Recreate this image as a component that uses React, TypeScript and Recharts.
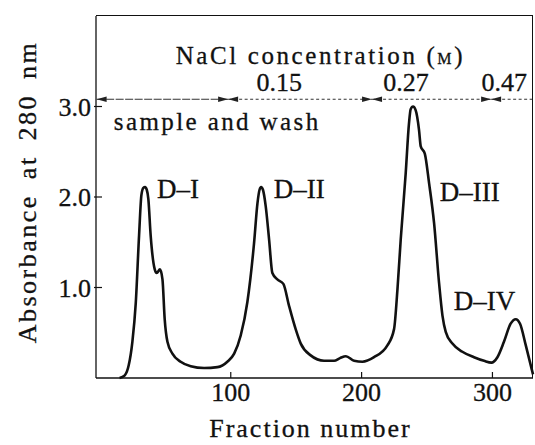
import { LineChart, Line, XAxis, YAxis, ReferenceLine, ReferenceDot, Label } from 'recharts';

// elution profile
const fraction = [
  15, 19, 22, 24.8, 27.4, 29.9, 31.7, 33.2, 34.5, 35.8, 37, 38.8, 41.9, 43.4, 45.9, 47.8, 49.5, 51.6, 55.4,
  61.7, 69.4, 79.6, 89.8, 97.4, 102.6, 107.6, 112.7, 117.8, 120.4, 122, 123.2, 124.6, 126.7, 129.3, 131.8,
  135.6, 140.2, 144.5, 149.6, 153.5, 161.1, 171.3, 179, 183.5, 188, 194.3, 200.6, 209.5, 219.7, 224.8, 227.4,
  229.9, 233.7, 236.2, 237.5, 239.3, 241.3, 243.9, 245.2, 248.3, 251.6, 255.4, 259.2, 261.8, 264.3, 269.4,
  277, 285.9, 293.6, 299.2, 303.8, 308.8, 313.9, 317.8, 321.1, 325.5, 331,
];
const absorbance = [
  0, 0.03, 0.14, 0.4, 0.83, 1.57, 2.02, 2.1, 2.11, 2.08, 1.98, 1.57, 1.2, 1.16, 1.2, 1.09, 0.65, 0.4, 0.27,
  0.18, 0.13, 0.11, 0.12, 0.18, 0.27, 0.47, 0.84, 1.49, 1.93, 2.08, 2.11, 2.08, 1.9, 1.53, 1.16,
  1.09, 1.04, 0.8, 0.54, 0.38, 0.25, 0.19, 0.19, 0.22, 0.24, 0.19, 0.18, 0.23, 0.36, 0.54, 0.98,
  1.53, 2.26, 2.81, 2.97, 3.0, 2.96, 2.74, 2.56, 2.48, 2.15, 1.71, 1.05, 0.69, 0.51, 0.38,
  0.29, 0.23, 0.19, 0.17, 0.23, 0.4, 0.6, 0.65, 0.6, 0.36, 0.04,
];

const xTicks = [100, 200, 300];
const yTicks = [1, 2, 3];

// NaCl steps (fraction where each step starts/ends) and their labels
const saltBounds = [-2.5, 98, 208, 299, 331];
const saltLabels = ['0.15', '0.27', '0.47'];
const saltLabelX = [137, 234, 309];
const saltLevel = 3.08;

const peakNames = ['D–I', 'D–II', 'D–III', 'D–IV'];
const peakLabelX = [59.6, 152.3, 282.6, 294];
const peakLabelY = [1.99, 1.99, 1.96, 0.75];

const data = fraction.map((f, i) => ({ x: f, y: absorbance[i] }));

const FONT = "'Liberation Serif', 'Times New Roman', Times, serif";
const INK = '#111';
const W = 535;
const H = 445;
const MARGIN = { top: 16, right: 2, left: 0, bottom: 0 };
const Y_AXIS_W = 96;
const X_AXIS_H = 67;
const xDomain = [-3, 331];
const yDomain = [0, 4];

const txt = { fontFamily: FONT };
const heavy = { stroke: INK, strokeWidth: 0.3 };

const XTick = (p: any) => (
  <g>
    <line x1={p.x} x2={p.x} y1={p.y} y2={p.y - 6} stroke={INK} strokeWidth={1.2} />
    <text x={p.x} y={p.y + 23} textAnchor="middle" fontSize={26} style={txt} fill={INK} {...heavy}>
      {p.payload.value}
    </text>
  </g>
);

const YTick = (p: any) => (
  <g>
    <line x1={p.x - 2} x2={p.x + 6} y1={p.y} y2={p.y} stroke={INK} strokeWidth={1.2} />
    <text x={p.x - 5} y={p.y + 9} textAnchor="end" fontSize={26} style={txt} fill={INK} {...heavy}>
      {p.payload.value.toFixed(1)}
    </text>
  </g>
);

const YTitle = () => {
  const cx = 27;
  const cy = 192;
  return (
    <text
      x={cx}
      y={cy}
      transform={`rotate(-90 ${cx} ${cy})`}
      textAnchor="middle"
      dominantBaseline="central"
      fontSize={26}
      style={txt}
      fill={INK}
      {...heavy}
      letterSpacing={2.5}
      wordSpacing={6}
    >
      Absorbance at 280 nm
    </text>
  );
};

function arrowSeg(left: boolean, right: boolean, dash: string) {
  return (p: any) => {
    const { x1, y1, x2 } = p;
    const h = 2.8;
    const L = 10;
    return (
      <g>
        <line x1={x1} y1={y1} x2={x2} y2={y1} stroke="#333" strokeWidth={1.2} strokeDasharray={dash} />
        {left && <polygon points={`${x1},${y1} ${x1 + L},${y1 - h} ${x1 + L},${y1 + h}`} fill="#222" />}
        {right && <polygon points={`${x2},${y1} ${x2 - L},${y1 - h} ${x2 - L},${y1 + h}`} fill="#222" />}
      </g>
    );
  };
}

function textAt(text: string, size: number, anchor: string, spacing = 0) {
  return (p: any) => (
    <text x={p.cx} y={p.cy} fontSize={size} textAnchor={anchor} style={txt} fill={INK} {...heavy} letterSpacing={spacing}>
      {text}
    </text>
  );
}

const headerShape = (p: any) => (
  <text x={p.cx} y={p.cy} fontSize={25} textAnchor="middle" style={txt} fill={INK} {...heavy} letterSpacing={2.6}>
    NaCl concentration (<tspan fontSize={16}>M</tspan>)
  </text>
);

export default function App() {
  const plotLeft = MARGIN.left + Y_AXIS_W;
  const plotTop = MARGIN.top;
  const plotW = W - MARGIN.right - plotLeft;
  const plotH = H - MARGIN.bottom - X_AXIS_H - plotTop;
  return (
    <div style={{ position: 'absolute', left: 0, top: 0, width: W, height: H, background: '#fff' }}>
      <LineChart width={W} height={H} data={data} margin={MARGIN}>
        <XAxis
          dataKey="x"
          type="number"
          domain={xDomain}
          ticks={xTicks}
          height={X_AXIS_H}
          tickSize={0}
          tickMargin={0}
          tickLine={false}
          tick={<XTick />}
          axisLine={{ stroke: INK, strokeWidth: 1.3 }}
        >
          <Label
            content={(p: any) => (
              <text
                x={p.viewBox.x + p.viewBox.width / 2 - 4}
                y={p.viewBox.y + 59}
                textAnchor="middle"
                fontSize={26}
                style={txt}
                fill={INK}
                {...heavy}
                letterSpacing={2}
              >
                Fraction number
              </text>
            )}
          />
        </XAxis>
        <YAxis
          type="number"
          domain={yDomain}
          ticks={yTicks}
          width={Y_AXIS_W}
          tickSize={0}
          tickMargin={0}
          tickLine={false}
          tick={<YTick />}
          axisLine={{ stroke: INK, strokeWidth: 1.3 }}
        >
          <Label content={YTitle} />
        </YAxis>

        {saltBounds.slice(0, -1).map((b, i) => (
          <ReferenceLine
            key={`seg${i}`}
            segment={[{ x: b, y: saltLevel }, { x: saltBounds[i + 1], y: saltLevel }]}
            ifOverflow="visible"
            shape={arrowSeg(true, i < saltBounds.length - 2, i === 0 ? '8 1.5' : '3 2.5')}
          />
        ))}
        <ReferenceDot x={168.5} y={3.47} r={0} shape={headerShape} />
        {saltLabels.map((s, i) => (
          <ReferenceDot key={s} x={saltLabelX[i]} y={3.17} r={0} shape={textAt(s, 26, 'middle')} />
        ))}
        <ReferenceDot x={10.6} y={2.74} r={0} shape={textAt('sample and wash', 25, 'start', 2.4)} />
        {peakNames.map((n, i) => (
          <ReferenceDot key={n} x={peakLabelX[i]} y={peakLabelY[i]} r={0} shape={textAt(n, 27, 'middle')} />
        ))}

        <Line type="monotone" dataKey="y" stroke={INK} strokeWidth={2.6} dot={false} isAnimationActive={false} />
      </LineChart>
      {/* top and right edges of the plot box */}
      <div
        style={{
          position: 'absolute',
          left: plotLeft,
          top: plotTop - 1,
          width: plotW,
          height: plotH + 1,
          borderTop: `1.5px solid ${INK}`,
          borderRight: `1.5px solid ${INK}`,
          boxSizing: 'border-box',
          pointerEvents: 'none',
        }}
      />
    </div>
  );
}
